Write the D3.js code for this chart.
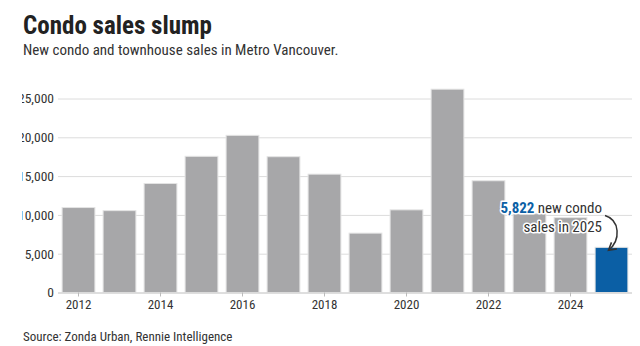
<html>
<head>
  <script src="https://d3js.org/d3.v7.min.js"></script>
  <style>
    body { margin: 0; background: #fff; }
    text { font-family: "Roboto Condensed", Roboto, sans-serif; }
  </style>
</head>
<body>
  <script>
    let width = 640;
    let height = 346;

    // data
    let years = [2012, 2013, 2014, 2015, 2016, 2017, 2018, 2019, 2020, 2021, 2022, 2023, 2024, 2025];
    let sales = [10950, 10550, 14050, 17550, 20250, 17500, 15250, 7650, 10650, 26200, 14400, 10150, 9650, 5822];
    let yTicks = [0, 5000, 10000, 15000, 20000, 25000];
    let xTickYears = [2012, 2014, 2016, 2018, 2020, 2022, 2024];

    let svg = d3.select("body")
      .append("svg")
      .attr("width", width)
      .attr("height", height);

    // title + subtitle
    svg.append("text")
      .attr("x", 23).attr("y", 34)
      .attr("font-size", 25).attr("font-weight", 700)
      .attr("fill", "#222")
      .text("Condo sales slump");
    svg.append("text")
      .attr("x", 23).attr("y", 55)
      .attr("font-size", 15)
      .attr("fill", "#333")
      .text("New condo and townhouse sales in Metro Vancouver.");

    let x = d3.scaleBand()
      .domain(years)
      .range([58, 632])
      .paddingInner(0.2)
      .paddingOuter(0.1);

    let y = d3.scaleLinear()
      .domain([0, 25000])
      .range([292.5, 98.5]);

    // clip for the y labels (cut at left like the original)
    svg.append("clipPath").attr("id", "leftclip")
      .append("rect").attr("x", 22).attr("y", 0).attr("width", width).attr("height", height);

    // gridlines + y labels
    let yWrap = svg.append("g").attr("clip-path", "url(#leftclip)");
    let yAxis = yWrap.append("g")
      .attr("transform", "translate(58,0)")
      .call(d3.axisLeft(y).tickValues(yTicks).tickSize(-574).tickFormat(d3.format(",")));
    yAxis.select(".domain").remove();
    yAxis.selectAll(".tick line").attr("stroke", "#dcdcdc");
    yAxis.selectAll(".tick text")
      .attr("x", -4)
      .attr("font-size", 13.5)
      .attr("font-family", "'Roboto Condensed', Roboto, sans-serif")
      .attr("fill", "#333");

    // bars
    svg.append("g").selectAll("rect")
      .data(years)
      .enter()
      .append("rect")
      .attr("x", d => x(d))
      .attr("width", x.bandwidth())
      .attr("y", (d, i) => y(sales[i]))
      .attr("height", (d, i) => y(0) - y(sales[i]))
      .attr("fill", d => d === 2025 ? "#0b5fa5" : "#a7a7a9")
      .attr("stroke", "#e4e4e4")
      .attr("stroke-width", 1);

    // x axis
    let xAxis = svg.append("g")
      .attr("transform", "translate(0," + y(0) + ")")
      .call(d3.axisBottom(x).tickValues(xTickYears).tickSize(4).tickPadding(3));
    xAxis.select(".domain").attr("stroke", "#d0d0d0").attr("d", "M58,0.5H632");
    xAxis.selectAll(".tick line").attr("stroke", "#bbb");
    xAxis.selectAll(".tick text")
      .attr("font-size", 13)
      .attr("font-family", "'Roboto Condensed', Roboto, sans-serif")
      .attr("fill", "#333");

    // annotation
    let ann = svg.append("g");
    let halo = function(t) {
      t.attr("stroke", "#fff").attr("stroke-width", 3).attr("paint-order", "stroke")
       .attr("stroke-linejoin", "round");
    };
    let line1 = ann.append("text")
      .attr("x", 602).attr("y", 213)
      .attr("text-anchor", "end")
      .attr("font-size", 15)
      .call(halo);
    line1.append("tspan").attr("fill", "#0b5fa5").attr("font-weight", 700).text("5,822");
    line1.append("tspan").attr("fill", "#333").text(" new condo");
    ann.append("text")
      .attr("x", 602).attr("y", 232)
      .attr("text-anchor", "end")
      .attr("font-size", 15)
      .attr("fill", "#333")
      .call(halo)
      .text("sales in 2025");

    svg.append("defs").append("marker")
      .attr("id", "arrow")
      .attr("viewBox", "0 0 10 10")
      .attr("refX", 8).attr("refY", 5)
      .attr("markerWidth", 7).attr("markerHeight", 7)
      .attr("orient", "auto")
      .append("path")
      .attr("d", "M1,1L8,5L1,9")
      .attr("fill", "none")
      .attr("stroke", "#333")
      .attr("stroke-width", 1.5);

    let bx = x(2025) + x.bandwidth() / 2;
    ann.append("path")
      .attr("d", "M605,215.5C620,220 621,240 " + (bx - 3) + "," + (y(sales[13]) + 3))
      .attr("fill", "none")
      .attr("stroke", "#333")
      .attr("stroke-width", 1.5)
      .attr("marker-end", "url(#arrow)");

    // source
    svg.append("text")
      .attr("x", 23).attr("y", 341)
      .attr("font-size", 13)
      .attr("fill", "#333")
      .text("Source: Zonda Urban, Rennie Intelligence");
  </script>
</body>
</html>
